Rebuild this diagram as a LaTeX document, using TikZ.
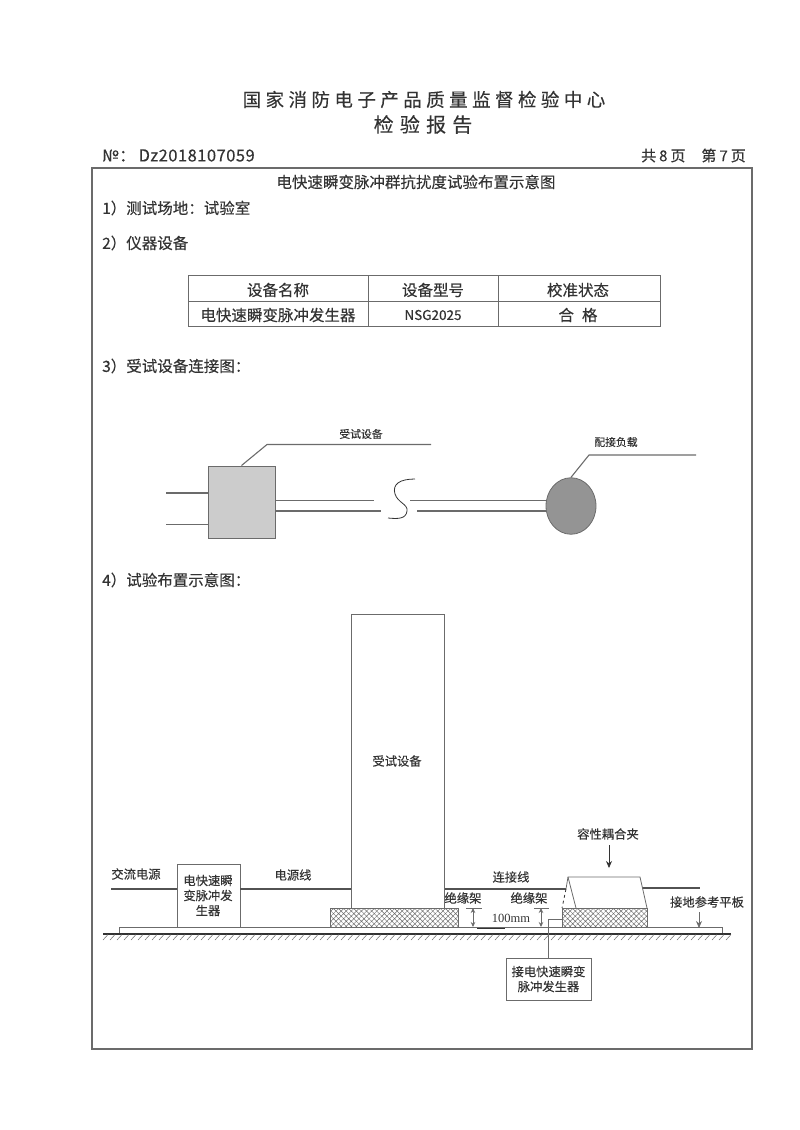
\documentclass[tikz,border=0pt]{standalone}
\usepackage{fontspec}
\usetikzlibrary{patterns,patterns.meta,arrows.meta,shapes.geometric}
\setmainfont[FakeBold=0.25]{Noto Sans CJK SC}
\newfontfamily\wide[LetterSpace=24,FakeBold=0.25]{Noto Sans CJK SC}
\newfontfamily\widetwo[LetterSpace=31,FakeBold=0.25]{Noto Sans CJK SC}
\newfontfamily\numfont[LetterSpace=3,FakeBold=0.25]{Noto Sans CJK SC}
\newfontfamily\tms{Liberation Serif}
\definecolor{ink}{gray}{0.2}
\definecolor{soft}{gray}{0.42}
\tikzset{
  x=1pt,y=-1pt,
  txt/.style={inner sep=0pt,text=ink,font=\fontsize{15.5}{18}\selectfont},
  lbl/.style={inner sep=0pt,text=ink,align=center,font=\fontsize{12.3}{15}\selectfont},
  small/.style={inner sep=0pt,text=ink,font=\fontsize{10.8}{12}\selectfont},
  rule/.style={draw=soft,line width=0.9pt},
  wire/.style={draw=soft,line width=1.1pt},
  cable/.style={draw=black!68,line width=2.4pt},
  outline/.style={draw=soft,line width=0.8pt},
  hatchbox/.style={draw=soft,line width=0.6pt,pattern={Hatch[angle=45,distance=3.6pt,line width=0.45pt]},pattern color=soft,minimum height=19pt,inner sep=0pt},
  dimarrow/.style={draw=soft,line width=0.7pt,{Stealth[length=5pt,width=4.5pt]}-{Stealth[length=5pt,width=4.5pt]}},
  pointer/.style={draw=ink,line width=0.8pt,-{Stealth[length=7pt,width=6pt]}},
}
\begin{document}
\begin{tikzpicture}
\useasboundingbox (0,0) rectangle (800,1130);
% header
\node[inner sep=0pt,text=ink,font=\fontsize{18.5}{20}\selectfont\wide] (org) at (424,99.5) {国家消防电子产品质量监督检验中心};
\node[inner sep=0pt,text=ink,font=\fontsize{20}{22}\selectfont\widetwo] (rep) at (423,124.5) {检验报告};
\node[inner sep=0pt,anchor=west,text=ink,font=\fontsize{16.5}{18}\selectfont\numfont] (no) at (102,155.5) {№：\hspace{3pt}Dz2018107059};
\node[inner sep=0pt,anchor=east,text=ink,font=\fontsize{15}{16}\selectfont] (pg) at (746,155.5) {共\hspace{3pt}8\hspace{3pt}页\hspace{16pt}第\hspace{3pt}7\hspace{3pt}页};
% frame
\node[draw=soft,line width=1.3pt,minimum width=660pt,minimum height=881pt,inner sep=0pt] (frame) at (422,608.5) {};
\node[txt] (ttl) at (416,182) {电快速瞬变脉冲群抗扰度试验布置示意图};
\node[txt,anchor=west] (s1) at (102,208) {1）测试场地：试验室};
\node[txt,anchor=west] (s2) at (102,243) {2）仪器设备};
\node[txt,anchor=west] (s3) at (102,366) {3）受试设备连接图：};
\node[txt,anchor=west] (s4) at (102,580) {4）试验布置示意图：};
% table
\draw[rule] (188,275) rectangle (660,326);
\draw[rule] (188,301) -- (660,301);
\draw[rule] (368,275) -- (368,326);
\draw[rule] (498,275) -- (498,326);
\node[txt] (h1) at (278,290) {设备名称};
\node[txt] (h2) at (433,290) {设备型号};
\node[txt] (h3) at (578,290) {校准状态};
\node[txt] (c1) at (278,315) {电快速瞬变脉冲发生器};
\node[txt,font=\fontsize{13.5}{16}\selectfont] (c2) at (433,315) {NSG2025};
\node[txt] (c3) at (578,315) {合\hspace{8pt}格};
% connection diagram
\node[draw=soft,line width=1pt,fill=black!20,minimum width=67pt,minimum height=72pt,inner sep=0pt] (eut) at (241.5,502) {};
\node[draw=soft,line width=0.8pt,fill=black!42,ellipse,minimum width=50pt,minimum height=56.5pt,inner sep=0pt] (load) at (571,506) {};
\node[small] (eutl) at (361,434) {受试设备};
\node[small] (loadl) at (616,442) {配接负载};
\coordinate (eutk) at (267,444.5);
\coordinate (eute) at (431,444.5);
\coordinate (loadk) at (589,455);
\coordinate (loade) at (696,455);
\draw[wire] (eut.north) -- (eutk) -- (eute);
\draw[wire] (load.north) -- (loadk) -- (loade);
\coordinate (la) at (166,493);
\coordinate (lb) at (166,524.5);
\draw[wire] (la) -- (eut.west |- la);
\draw[wire] (lb) -- (eut.west |- lb);
\coordinate (ra) at (374,500.5);
\coordinate (rb) at (381,511);
\coordinate (pa) at (410,500.5);
\coordinate (pb) at (417,511);
\draw[wire] (eut.east |- ra) -- (ra);
\draw[wire] (eut.east |- rb) -- (rb);
\draw[wire] (pa) -- (load.west |- pa);
\draw[wire] (pb) -- (load.west |- pb);
\draw[draw=ink,line width=0.8pt] (415,479) .. controls (400,479) and (392,484) .. (395,494) .. controls (398,503) and (408,504) .. (407,511) .. controls (406,519) and (398,519) .. (388,518);
% set-up diagram: ground
\node[draw=soft,line width=1pt,minimum width=93pt,inner sep=0pt,minimum height=294pt] (dut) at (398,761) {};
\node[lbl] (dutl) at (397,761) {受试设备};
\node[outline,minimum width=603pt,minimum height=6pt,inner sep=0pt] (plate) at (420.5,930.5) {};
\draw[draw=ink,line width=1.2pt] (103,934) -- (731,934);
\foreach \p in {108,115,...,731} \draw[draw=soft,line width=0.5pt] (\p,934.5) -- (\p-5,940);
\node[hatchbox,minimum width=128pt] (rack1) at (394,917.5) {};
\node[hatchbox,minimum width=85pt] (rack2) at (604.5,917.5) {};
\node[outline,fill=white,minimum width=63pt,minimum height=63pt,inner sep=0pt] (gen) at (208.5,895.5) {};
\node[lbl] (genl) at (208,895.5) {电快速瞬\\变脉冲发\\生器};
% clamp
\coordinate (cl) at (576,908);
\coordinate (ctl) at (568,877);
\coordinate (ctr) at (640,877);
\coordinate (cr) at (647,908);
\coordinate (cd) at (566,889);
\coordinate (cde) at (562,908);
% cables
\coordinate (acin) at (111,889);
\coordinate (cout) at (700,888);
\draw[cable] (acin) -- (gen.west |- acin);
\draw[cable] (gen.east |- acin) -- (dut.west |- acin);
\draw[cable] (dut.east |- cd) -- (cd);
\draw[cable] (642,888) -- (cout);
\draw[outline] (cd) -- (ctl) -- (ctr) -- (cr);
\draw[outline] (ctl) -- (cl);
\draw[outline,dashed,draw=ink] (cd) -- (cde);
% labels
\node[lbl] (ac) at (136,874) {交流电源};
\node[lbl] (pw) at (293,875) {电源线};
\node[lbl] (cn) at (511,877) {连接线};
\node[lbl] (cp) at (608,834) {容性耦合夹};
\node[lbl] (r1) at (463,898) {绝缘架};
\node[lbl] (r2) at (529,898) {绝缘架};
\node[lbl,font=\tms\fontsize{12.5}{15}\selectfont] (mm) at (511,918) {100mm};
\node[lbl] (gp) at (707,902) {接地参考平板};
\coordinate (cpa) at (609,845);
\coordinate (cpb) at (609,868);
\draw[pointer] (cpa) -- (cpb);
\coordinate (gpa) at (699,912);
\coordinate (gpb) at (699,928);
\draw[pointer,draw=soft] (gpa) -- (gpb);
% dimension marks
\coordinate (d1t) at (473,908);
\coordinate (d1b) at (473,927);
\coordinate (d2t) at (541,908);
\coordinate (d2b) at (541,927);
\draw[outline] (466,908) -- (482,908);
\draw[outline] (534,908) -- (549,908);
\draw[draw=ink,line width=0.8pt] (477,928) -- (505,928);
\draw[dimarrow] (d1t) -- (d1b);
\draw[dimarrow] (d2t) -- (d2b);
% generator connection box
\node[outline,minimum width=85pt,minimum height=42pt,inner sep=0pt] (conn) at (548.5,979) {};
\node[lbl,text width=80pt,align=center] (connl) at (548.5,979) {接电快速瞬变\\脉冲发生器};
\coordinate (tap) at (548,919);
\draw[outline] (conn.north -| tap) -- (tap) -- (rack2.west |- tap);
\end{tikzpicture}
\end{document}
